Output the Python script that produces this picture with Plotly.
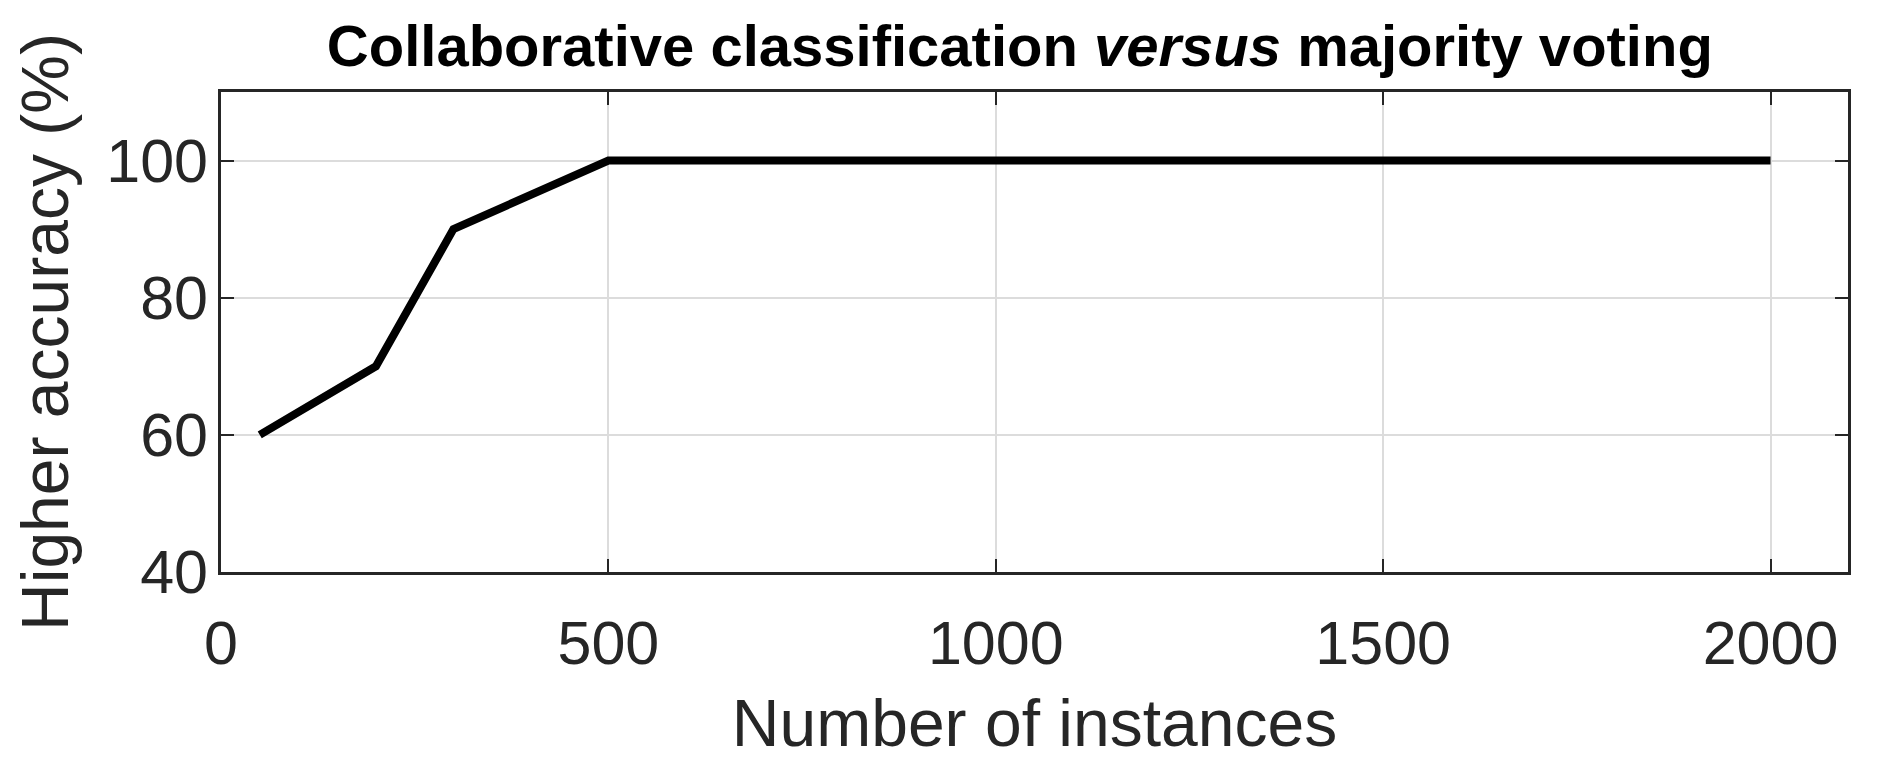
import plotly.graph_objects as go

instances = [50, 200, 300, 400, 500, 1000, 1500, 2000]
higher_accuracy = [60, 70, 90, 95, 100, 100, 100, 100]

x_ticks = [0, 500, 1000, 1500, 2000]
y_ticks = [40, 60, 80, 100]

title_text = "Collaborative classification <i>versus</i> majority voting"
x_title = "Number of instances"
y_title = "Higher accuracy (%)"

FONT = "Liberation Sans, Arial, Helvetica, sans-serif"
AX = "#262626"

# the page body has an 8px default margin; compensate so the plot lands on the reference pixels
W, H = 1869, 764

fig = go.Figure()
fig.add_trace(go.Scatter(
    x=instances, y=higher_accuracy, mode="lines",
    line=dict(color="black", width=8),
    showlegend=False,
))

fig.update_layout(
    width=W, height=H,
    margin=dict(l=213, r=29, t=84, b=200),
    paper_bgcolor="white", plot_bgcolor="white",
    font=dict(family=FONT, color=AX),
    title=dict(text="<b>" + title_text + "</b>", x=0.491, xref="paper", xanchor="center",
               y=1 - 38 / H, yanchor="middle",
               font=dict(family=FONT, size=58, color="black")),
)

fig.update_xaxes(
    range=[0, 2100], tickvals=x_ticks, ticktext=[str(v) for v in x_ticks],
    ticks="inside", ticklen=13, tickwidth=2, tickcolor=AX,
    showline=True, linecolor=AX, linewidth=2.5, mirror="ticks",
    showgrid=True, gridcolor="#dcdcdc", gridwidth=1.5,
    zeroline=False,
    tickfont=dict(size=61, color=AX, family=FONT),
    ticklabelstandoff=16,
    title=dict(text=x_title, font=dict(size=66, color=AX, family=FONT), standoff=24),
)
fig.update_yaxes(
    range=[40, 110], tickvals=y_ticks, ticktext=[str(v) for v in y_ticks],
    ticks="inside", ticklen=13, tickwidth=2, tickcolor=AX,
    showline=True, linecolor=AX, linewidth=2.5, mirror="ticks",
    showgrid=True, gridcolor="#dcdcdc", gridwidth=1.5,
    zeroline=False,
    tickfont=dict(size=61, color=AX, family=FONT),
    ticklabelstandoff=-2,
    title=dict(text=y_title, font=dict(size=66, color=AX, family=FONT), standoff=24),
)

fig.write_html("out.html")
